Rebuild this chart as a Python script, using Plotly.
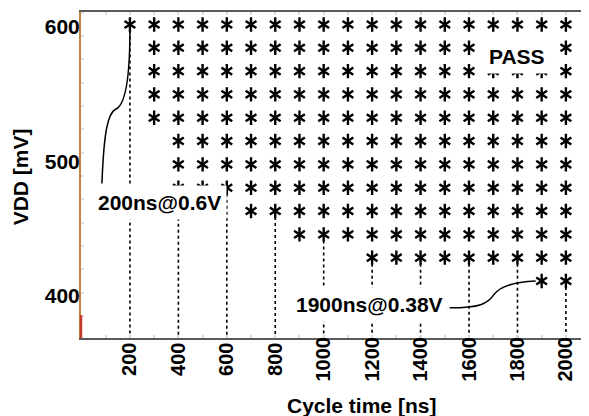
import plotly.graph_objects as go

# ---------------- data ----------------
vdd_mv = [601.7, 584.4, 567.0, 549.7, 532.3, 515.0, 497.6, 480.2, 462.9, 445.5, 428.2, 410.8]
min_pass_ns = [200, 300, 300, 300, 300, 400, 400, 400, 700, 900, 1200, 1900]
cycle_ns = list(range(200, 2001, 100))
xtick_ns = list(range(200, 2001, 200))
ytick_mv = [400, 500, 600]
row_step_mv = 17.36

X_RANGE = [-2, 2083]
Y_RANGE = [368.4, 611.0]
# the page body keeps its default 8px margin, so the figure is 8px smaller
W, H = 581, 408
ML, MR, MT, MB = 73, 3, 2, 78
PW = W - ML - MR
PH = H - MT - MB

def dx(px):
    return (px / PW) * (X_RANGE[1] - X_RANGE[0])

def dy(py):
    return -(py / PH) * (Y_RANGE[1] - Y_RANGE[0])

FONT = "Liberation Sans, Arial, sans-serif"

# passing points of the shmoo
pass_x, pass_y = [], []
for v, m in zip(vdd_mv, min_pass_ns):
    for c in cycle_ns:
        if c >= m:
            pass_x.append(c)
            pass_y.append(v)

# dotted drop lines from the lowest passing voltage of each labelled column
drop_x, drop_y = [], []
for c in xtick_ns:
    low = min(v for v, m in zip(vdd_mv, min_pass_ns) if c >= m)
    drop_x += [c, c, None]
    drop_y += [low, Y_RANGE[0], None]

fig = go.Figure()
fig.add_trace(go.Scatter(x=drop_x, y=drop_y, mode="lines",
                         line=dict(color="black", width=1.6, dash="dot"),
                         hoverinfo="skip", showlegend=False))
for sym in ["y-up", "y-down"]:
    fig.add_trace(go.Scatter(x=pass_x, y=pass_y, mode="markers",
                             marker=dict(symbol=sym, size=9, color="black",
                                         line=dict(color="black", width=2.4)),
                             showlegend=False))

# leader curves (offsets in pixels from the pointed-at marker)
def leader(x0, y0, pts):
    coords = [(x0 + dx(ox), y0 + dy(oy)) for ox, oy in pts]
    s = "M {},{}".format(*coords[0])
    for i in range(1, len(coords), 3):
        s += " C {},{} {},{} {},{}".format(*coords[i], *coords[i + 1], *coords[i + 2])
    return s

path1 = leader(200, vdd_mv[0], [(0, 5), (0, 57), (-5, 81), (-14, 85),
                                (-22, 89), (-26, 107), (-28, 160)])
path2 = leader(1900, vdd_mv[-1], [(-92, 27), (-62, 27), (-54, 23), (-48, 14),
                                  (-42, 5), (-27, 1), (-6, 0)])

shapes = [
    dict(type="path", path=path1, xref="x", yref="y", line=dict(color="black", width=1.5)),
    dict(type="path", path=path2, xref="x", yref="y", line=dict(color="black", width=1.5)),
    # frame
    dict(type="line", xref="paper", yref="paper", x0=1, x1=1, y0=0, y1=1,
         line=dict(color="#f6d0a8", width=1.5), layer="below"),
    dict(type="line", xref="paper", yref="paper", x0=0, x1=0, y0=0, y1=0.07,
         line=dict(color="#c0392b", width=2.5), layer="above"),
]

annotations = [
    dict(x=324, y=469, xref="x", yref="y", text="200ns@0.6V", showarrow=False,
         bgcolor="white", borderpad=5,
         font=dict(family=FONT, size=21, color="black", weight="bold")),
    dict(x=1190, y=393, xref="x", yref="y", text="1900ns@0.38V", showarrow=False,
         bgcolor="white", borderpad=5,
         font=dict(family=FONT, size=21, color="black", weight="bold")),
    dict(x=1800, y=578, xref="x", yref="y", text="PASS", showarrow=False,
         bgcolor="white", borderpad=5,
         font=dict(family=FONT, size=21, color="black", weight="bold")),
    dict(x=-0.118, y=0.494, xref="paper", yref="paper", text="VDD [mV]", textangle=-90,
         showarrow=False, xanchor="center", yanchor="middle",
         font=dict(family=FONT, size=21, color="black", weight="bold")),
    dict(x=0.556, y=-0.207, xref="paper", yref="paper", text="Cycle time [ns]",
         showarrow=False, xanchor="center", yanchor="middle",
         font=dict(family=FONT, size=21, color="black", weight="bold")),
]

xticktext = [(str(t) + "\u00a0") if t < 1000 else str(t) for t in xtick_ns]

fig.update_layout(
    width=W, height=H, autosize=False,
    margin=dict(l=ML, r=MR, t=MT, b=MB, pad=0),
    paper_bgcolor="white", plot_bgcolor="white",
    shapes=shapes, annotations=annotations,
    xaxis=dict(range=X_RANGE, showgrid=False, zeroline=False,
               tickvals=xtick_ns, ticktext=xticktext, tickangle=-90,
               ticklabelstandoff=-11,
               ticks="inside", ticklen=3, tickcolor="#d8d8d8", tickwidth=1.5,
               minor=dict(dtick=100, tick0=0, ticks="inside", ticklen=3,
                          tickcolor="#d8d8d8", tickwidth=1.5),
               showline=True, linecolor="#5a5a5a", linewidth=2, mirror="ticks",
               tickfont=dict(family=FONT, size=20, color="black", weight="bold")),
    yaxis=dict(range=Y_RANGE, showgrid=False, zeroline=False,
               tickvals=ytick_mv, ticks="", ticklabelstandoff=-5,
               minor=dict(tick0=vdd_mv[0] + row_step_mv / 2, dtick=row_step_mv,
                          ticks="inside", ticklen=3, tickcolor="#e0e0e0", tickwidth=1.5),
               showline=True, linecolor="#c28540", linewidth=2,
               tickfont=dict(family=FONT, size=21, color="black", weight="bold")),
)

fig.write_html("out.html")
